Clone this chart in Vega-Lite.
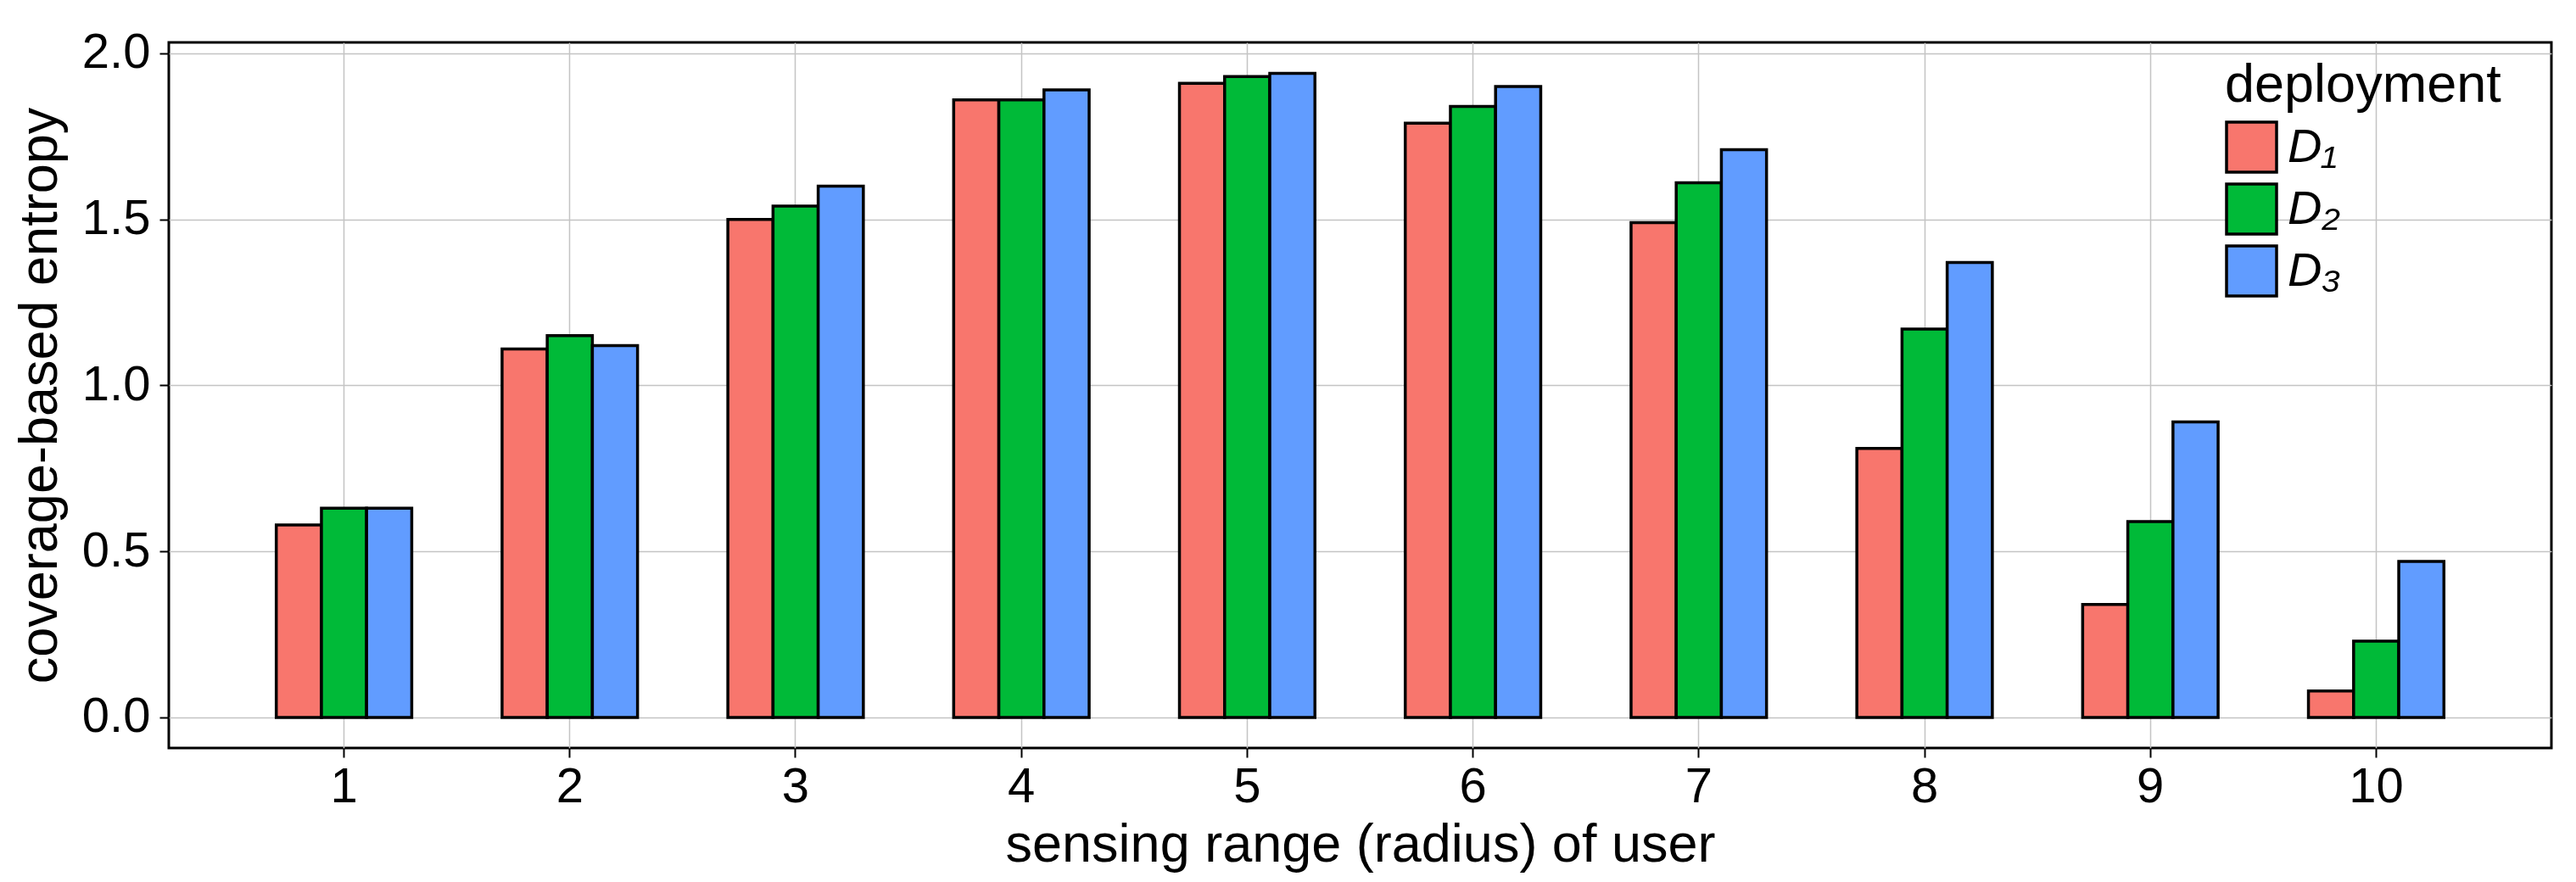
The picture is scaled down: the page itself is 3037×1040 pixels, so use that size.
{
  "$schema": "https://vega.github.io/schema/vega-lite/v6.json",
  "width": 2809,
  "height": 832,
  "autosize": {"type": "none"},
  "padding": {"left": 199, "top": 50, "right": 29, "bottom": 158},
  "background": "white",
  "config": {
    "font": "Liberation Sans",
    "view": {"stroke": "black", "strokeWidth": 3}
  },
  "data": {
    "values": [
      {"range": 1, "deployment": "D₁", "entropy": 0.58},
      {"range": 1, "deployment": "D₂", "entropy": 0.63},
      {"range": 1, "deployment": "D₃", "entropy": 0.63},
      {"range": 2, "deployment": "D₁", "entropy": 1.11},
      {"range": 2, "deployment": "D₂", "entropy": 1.15},
      {"range": 2, "deployment": "D₃", "entropy": 1.12},
      {"range": 3, "deployment": "D₁", "entropy": 1.50},
      {"range": 3, "deployment": "D₂", "entropy": 1.54},
      {"range": 3, "deployment": "D₃", "entropy": 1.60},
      {"range": 4, "deployment": "D₁", "entropy": 1.86},
      {"range": 4, "deployment": "D₂", "entropy": 1.86},
      {"range": 4, "deployment": "D₃", "entropy": 1.89},
      {"range": 5, "deployment": "D₁", "entropy": 1.91},
      {"range": 5, "deployment": "D₂", "entropy": 1.93},
      {"range": 5, "deployment": "D₃", "entropy": 1.94},
      {"range": 6, "deployment": "D₁", "entropy": 1.79},
      {"range": 6, "deployment": "D₂", "entropy": 1.84},
      {"range": 6, "deployment": "D₃", "entropy": 1.90},
      {"range": 7, "deployment": "D₁", "entropy": 1.49},
      {"range": 7, "deployment": "D₂", "entropy": 1.61},
      {"range": 7, "deployment": "D₃", "entropy": 1.71},
      {"range": 8, "deployment": "D₁", "entropy": 0.81},
      {"range": 8, "deployment": "D₂", "entropy": 1.17},
      {"range": 8, "deployment": "D₃", "entropy": 1.37},
      {"range": 9, "deployment": "D₁", "entropy": 0.34},
      {"range": 9, "deployment": "D₂", "entropy": 0.59},
      {"range": 9, "deployment": "D₃", "entropy": 0.89},
      {"range": 10, "deployment": "D₁", "entropy": 0.08},
      {"range": 10, "deployment": "D₂", "entropy": 0.23},
      {"range": 10, "deployment": "D₃", "entropy": 0.47}
    ]
  },
  "mark": {"type": "bar", "stroke": "black", "strokeWidth": 3.5, "strokeJoin": "miter"},
  "encoding": {
    "x": {
      "field": "range",
      "type": "ordinal",
      "scale": {"paddingInner": 0.4, "paddingOuter": 0.476},
      "axis": {
        "title": "sensing range (radius) of user",
        "labelAngle": 0,
        "bandPosition": 0.5,
        "grid": true,
        "gridColor": "#c4c4c4",
        "gridWidth": 1.5,
        "domain": false,
        "tickColor": "black",
        "tickSize": 11,
        "tickWidth": 2,
        "labelFontSize": 58,
        "labelColor": "black",
        "labelPadding": 6,
        "titleFontSize": 63,
        "titleFontWeight": "normal",
        "titleColor": "black",
        "titlePadding": 8
      }
    },
    "xOffset": {
      "field": "deployment",
      "type": "nominal",
      "scale": {"paddingInner": 0, "paddingOuter": 0}
    },
    "y": {
      "field": "entropy",
      "type": "quantitative",
      "stack": null,
      "scale": {"domain": [-0.092, 2.033], "nice": false, "zero": false},
      "axis": {
        "title": "coverage-based entropy",
        "values": [0, 0.5, 1, 1.5, 2],
        "format": ".1f",
        "grid": true,
        "gridColor": "#c4c4c4",
        "gridWidth": 1.5,
        "domain": false,
        "tickColor": "black",
        "tickSize": 11,
        "tickWidth": 2,
        "labelFontSize": 58,
        "labelColor": "black",
        "labelPadding": 11,
        "titleFontSize": 63,
        "titleFontWeight": "normal",
        "titleColor": "black",
        "titlePadding": 17
      }
    },
    "y2": {"datum": 0},
    "color": {
      "field": "deployment",
      "type": "nominal",
      "scale": {"domain": ["D₁", "D₂", "D₃"], "range": ["#F8766D", "#00BA38", "#619CFF"]},
      "legend": {
        "title": "deployment",
        "orient": "none",
        "legendX": 2424,
        "legendY": 20,
        "titleFontSize": 63,
        "titleFontWeight": "normal",
        "titleColor": "black",
        "titleLimit": 0,
        "titlePadding": 9,
        "labelFontSize": 56,
        "labelFontStyle": "italic",
        "labelColor": "black",
        "labelLimit": 0,
        "labelOffset": 11,
        "symbolType": "square",
        "symbolSize": 3481,
        "symbolStrokeColor": "black",
        "symbolStrokeWidth": 3.5,
        "symbolOpacity": 1,
        "rowPadding": 0,
        "padding": 0
      }
    }
  }
}
